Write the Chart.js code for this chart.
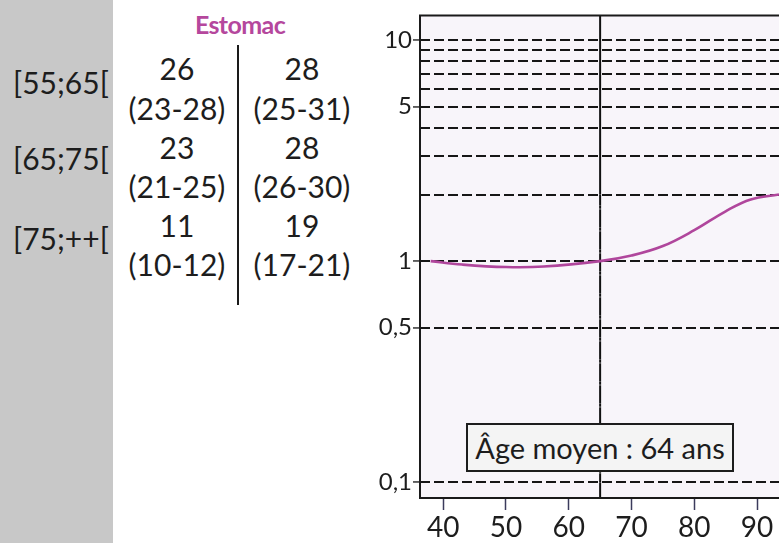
<!DOCTYPE html>
<html lang="fr">
<head>
  <meta charset="UTF-8">
  <title>Estomac</title>
  <style>
    body { margin: 0; width: 779px; height: 543px; overflow: hidden; background: #fff; font-family: Lato, "Open Sans", sans-serif; color: #1d1d1d; }
    .side { position: absolute; left: 0; top: 0; width: 113px; height: 543px; background: #c8c8c8; }
    .row { position: absolute; left: 13px; font-size: 30px; line-height: 30px; }
    .cell { position: absolute; width: 120px; margin-left: -60px; text-align: center; font-size: 30px; line-height: 30px; }
    .title { position: absolute; left: 180px; top: 11px; width: 120px; text-align: center; font-size: 25px; line-height: 26px; font-weight: 700; color: #b5479d; letter-spacing: -0.6px; }
    .divider { position: absolute; left: 237px; top: 45px; width: 2px; height: 260px; background: #1a1a1a; }
    #wrap { position: absolute; left: 360px; top: 0; width: 419px; height: 543px; }
    .note { position: absolute; left: 466px; top: 423px; width: 264px; height: 45px; border: 2px solid #1d1d1d; background: #f4f4f4; font-size: 29px; line-height: 45px; text-align: center; }
  </style>
</head>
<body>
  <div class="side"></div>
  <div class="title">Estomac</div>

  <div class="row" style="top:67px">[55;65[</div>
  <div class="row" style="top:143px">[65;75[</div>
  <div class="row" style="top:223px">[75;++[</div>

  <div class="cell" style="left:177px; top:53px">26</div>
  <div class="cell" style="left:177px; top:93px">(23-28)</div>
  <div class="cell" style="left:302px; top:53px">28</div>
  <div class="cell" style="left:302px; top:93px">(25-31)</div>
  <div class="cell" style="left:177px; top:132px">23</div>
  <div class="cell" style="left:177px; top:171px">(21-25)</div>
  <div class="cell" style="left:302px; top:132px">28</div>
  <div class="cell" style="left:302px; top:171px">(26-30)</div>
  <div class="cell" style="left:177px; top:210px">11</div>
  <div class="cell" style="left:177px; top:249px">(10-12)</div>
  <div class="cell" style="left:302px; top:210px">19</div>
  <div class="cell" style="left:302px; top:249px">(17-21)</div>
  <div class="divider"></div>

  <div id="wrap"><canvas id="chart" width="419" height="543"></canvas></div>
  <div class="note">Âge moyen : 64 ans</div>

  <script src="https://cdn.jsdelivr.net/npm/chart.js"></script>
  <script>
    // curve
    const ages = [38, 43, 50, 56, 65, 70, 75, 80, 85, 89, 93.5];
    const hazard = [1.0, 0.965, 0.94, 0.945, 1.0, 1.06, 1.17, 1.38, 1.68, 1.9, 2.0];

    const meanLineAge = 65;
    const xTicks = [40, 50, 60, 70, 80, 90];
    const yGridValues = [0.1, 0.5, 1, 2, 3, 4, 5, 6, 7, 8, 9, 10];
    const yLabelled = [0.1, 0.5, 1, 5, 10];

    const xMin = 36.3, xMax = 93.5;
    const yMin = 0.085, yMax = 12.9;

    // vertical line: solid at top, dash-dot below 2, solid again under 0,1
    const meanLineY = [yMax, 2, 0.1, yMin];

    const framePlugin = {
      id: 'frame',
      beforeDraw(chart) {
        const a = chart.chartArea, c = chart.ctx;
        c.save();
        c.fillStyle = '#f8f5fa';
        c.fillRect(a.left, a.top, a.right - a.left, a.bottom - a.top);
        c.restore();
      },
      afterDraw(chart) {
        const a = chart.chartArea, c = chart.ctx;
        c.save();
        c.strokeStyle = '#1a1a1a';
        c.lineWidth = 2;
        c.beginPath();
        c.moveTo(a.right + 2, a.top);
        c.lineTo(a.left, a.top);
        c.lineTo(a.left, a.bottom);
        c.lineTo(a.right + 2, a.bottom);
        c.stroke();
        c.restore();
      }
    };

    new Chart(document.getElementById('chart'), {
      type: 'line',
      data: {
        datasets: [
          {
            data: ages.map((a, i) => ({ x: a, y: hazard[i] })),
            borderColor: '#b0469c',
            borderWidth: 2.6,
            tension: 0.4,
            pointRadius: 0
          },
          {
            data: meanLineY.map(v => ({ x: meanLineAge, y: v })),
            borderColor: '#111',
            borderWidth: 2,
            pointRadius: 0,
            segment: {
              borderDash: ctx => ctx.p0DataIndex === 1 ? [11, 4, 3, 4] : []
            }
          }
        ]
      },
      plugins: [framePlugin],
      options: {
        responsive: false,
        animation: false,
        layout: { padding: { top: 8, left: 0, right: 0, bottom: 0 } },
        plugins: { legend: { display: false }, tooltip: { enabled: false } },
        scales: {
          x: {
            type: 'linear',
            min: xMin,
            max: xMax,
            afterBuildTicks: s => { s.ticks = xTicks.map(v => ({ value: v })); },
            afterFit: s => { s.height = 45; },
            border: { display: false },
            grid: { drawOnChartArea: false, drawTicks: true, tickLength: 12, tickColor: '#3b3b5c', tickWidth: 1.5 },
            ticks: { font: { family: 'Lato', size: 28 }, color: '#1d1d1d', padding: 1, maxRotation: 0 }
          },
          y: {
            type: 'logarithmic',
            min: yMin,
            max: yMax,
            afterBuildTicks: s => { s.ticks = yGridValues.map(v => ({ value: v })); },
            afterFit: s => { s.width = 60; },
            border: { display: false, dash: [10, 4] },
            grid: {
              color: '#161616',
              lineWidth: 1.9,
              drawTicks: true,
              tickLength: 7,
              tickWidth: 1.5,
              tickBorderDash: [],
              tickColor: ctx => yLabelled.includes(ctx.tick && ctx.tick.value) ? '#333' : 'rgba(0,0,0,0)'
            },
            ticks: {
              autoSkip: false,
              font: { family: 'Lato', size: 24 },
              color: '#1d1d1d',
              padding: 1,
              callback: v => yLabelled.includes(v) ? String(v).replace('.', ',') : ''
            }
          }
        }
      }
    });
  </script>
</body>
</html>
